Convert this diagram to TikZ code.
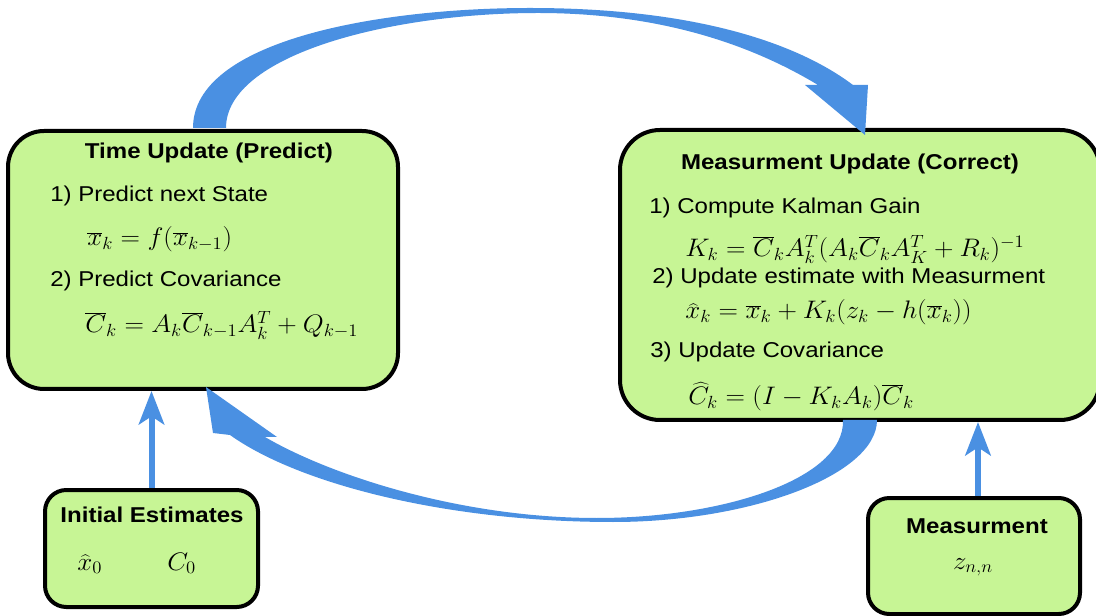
\documentclass[tikz,border=0pt]{standalone}
\usepackage{fontspec}
\setmainfont{Liberation Sans}[FakeStretch=1.12]
\usepackage{graphicx}
\usetikzlibrary{arrows.meta}
\definecolor{boxgreen}{RGB}{199,245,149}
\definecolor{arrowblue}{RGB}{74,144,226}
\newcommand{\mth}[1]{\scalebox{1.17}[1.1]{$#1$}}
\begin{document}
\begin{tikzpicture}[x=0.75pt,y=-0.75pt,
  greenbox/.style={draw=black, line width=3pt, fill=boxgreen, inner sep=0pt},
  txt/.style={inner sep=0pt, anchor=base west, font=\fontsize{16.1pt}{19pt}\selectfont},
  ttl/.style={inner sep=0pt, anchor=base, font=\fontsize{16.1pt}{19pt}\selectfont\bfseries},
  eq/.style={inner sep=0pt, anchor=base west, font=\fontsize{17.28pt}{21pt}\selectfont},
  thinarr/.style={draw=arrowblue, line width=4.5pt, -{Stealth[length=25pt,width=19pt,inset=6pt]}},
  bigarr/.style={fill=arrowblue, draw=none}]
\clip (0,0) rectangle (1096,616);
% boxes
\node[greenbox, rounded corners=27pt, minimum width=292.5pt, minimum height=193.5pt] (tu) at (203,260) {};
\node[greenbox, rounded corners=30pt, minimum width=360pt, minimum height=217.5pt] (mu) at (860,275) {};
\node[greenbox, rounded corners=16pt, minimum width=159.75pt, minimum height=87.75pt] (ie) at (151.5,548.5) {};
\node[greenbox, rounded corners=16pt, minimum width=159pt, minimum height=87pt] (me) at (974,556) {};
% Time update texts
\node[ttl] (tut) at (209,159) {Time Update (Predict)};
\node[txt] (tu1) at (50,202) {1) Predict next State};
\node[eq] (tue1) at (87,246) {\mth{\overline{x}_k = f(\overline{x}_{k-1})}};
\node[txt] (tu2) at (50,287) {2) Predict Covariance};
\node[eq] (tue2) at (85,333) {\mth{\overline{C}_k = A_k\overline{C}_{k-1}A_k^T + Q_{k-1}}};
% Measurement update texts
\node[ttl] (mut) at (850,170) {Measurment Update (Correct)};
\node[txt] (mu1) at (649,214) {1) Compute Kalman Gain};
\node[eq] (mue1) at (685,257) {\mth{K_k = \overline{C}_k A_k^T(A_k\overline{C}_k A_K^T + R_k)^{-1}}};
\node[txt] (mu2) at (652,284) {2) Update estimate with Measurment};
\node[eq] (mue2) at (685,319) {\mth{\widehat{x}_k = \overline{x}_k + K_k(z_k - h(\overline{x}_k))}};
\node[txt] (mu3) at (650,358) {3) Update Covariance};
\node[eq] (mue3) at (688,405) {\mth{\widehat{C}_k = (I - K_k A_k)\overline{C}_k}};
% Initial estimates
\node[ttl] (iet) at (152,522) {Initial Estimates};
\node[eq] (iex) at (77,570) {\mth{\widehat{x}_0}};
\node[eq] (iec) at (167,570) {\mth{C_0}};
% Measurement
\node[ttl] (met) at (977,533) {Measurment};
\node[eq, anchor=base] (mez) at (973,569) {\mth{z_{n,n}}};
% thin arrows
\draw[thinarr] (ie.north) -- (ie.north |- tu.south);
\coordinate (mtop) at ([xshift=3pt]me.north);
\draw[thinarr] (mtop) -- (mtop |- mu.south);
% big top curved arrow
\path[bigarr] (193,128) .. controls (193,40) and (380,8) .. (530,8)
  .. controls (700,8) and (800,45) .. (853,85)
  -- (868,85) -- (865,135) -- (805,85) -- (818,85)
  .. controls (760,50) and (670,13) .. (538,13)
  .. controls (390,13) and (226,55) .. (226,128) -- cycle;
% big bottom curved arrow
\path[bigarr] (877,420) .. controls (877,475) and (750,522) .. (613,522)
  .. controls (450,522) and (300,485) .. (230,435)
  -- (213,433) -- (206,387) -- (277,437) -- (265,437)
  .. controls (330,475) and (460,518) .. (597,518)
  .. controls (720,518) and (845,480) .. (843,420) -- cycle;
\end{tikzpicture}
\end{document}
